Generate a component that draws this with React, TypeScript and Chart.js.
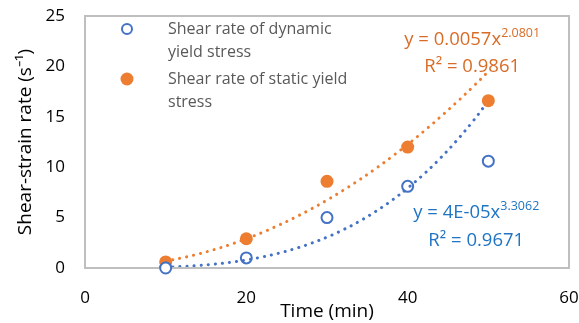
import React, { useEffect, useRef } from "react";
import { Chart, registerables } from "chart.js";

Chart.register(...registerables);

// ---- data ----
const timeMin = [10, 20, 30, 40, 50];
const dynamicRate = [0.0, 1.0, 5.0, 8.1, 10.6];
const staticRate = [0.6, 2.9, 8.6, 12.0, 16.6];

// power-law trendlines as printed on the chart: y = a * x^b
const dynamicFit = { a: 4e-5, b: 3.3062, r2: "0.9671", aText: "4E-05", bText: "3.3062" };
const staticFit = { a: 0.0057, b: 2.0801, r2: "0.9861", aText: "0.0057", bText: "2.0801" };
const trendX = [10, 12, 14, 16, 18, 20, 22, 24, 26, 28, 30, 32, 34, 36, 38, 40, 42, 44, 46, 48, 50];

const xTicks = [0, 20, 40, 60];
const yTicks = [0, 5, 10, 15, 20, 25];
const X_MIN = 0, X_MAX = 60, Y_MIN = 0, Y_MAX = 25;

const legendDynamic = ["Shear rate of dynamic", "yield stress"];
const legendStatic = ["Shear rate of static yield", "stress"];

const xTitle = "Time (min)";
const yTitle = "Shear-strain rate (s\u207B\u00B9)";

const BLUE = "#4472C4";
const ORANGE = "#ED7D31";
const BLUE_TXT = "#1F74C4";
const ORANGE_TXT = "#D86C27";
const BOX = "#BFBFBF";
const FONT = "'Open Sans', sans-serif";

const fitPoints = (f: { a: number; b: number }) =>
  trendX.map((x) => ({ x, y: f.a * Math.pow(x, f.b) }));

const decorPlugin = {
  id: "decor",
  afterDraw(chart: any) {
    const { ctx, scales } = chart;
    const xs = scales.x;
    const ys = scales.y;
    const L = Math.round(xs.getPixelForValue(X_MIN));
    const R = Math.round(xs.getPixelForValue(X_MAX));
    const T = Math.round(ys.getPixelForValue(Y_MAX));
    const B = Math.round(ys.getPixelForValue(Y_MIN));
    ctx.save();
    // plot-area frame, drawn as thin filled bars
    ctx.globalAlpha = 1;
    ctx.fillStyle = BOX;
    ctx.fillRect(L - 1, T - 1, R - L + 2, 2);
    ctx.fillRect(L - 1, B - 1, R - L + 2, 2);
    ctx.fillRect(L - 1, T - 1, 2, B - T + 2);
    ctx.fillRect(R - 1, T - 1, 2, B - T + 2);
    // the marker sitting on the axis is drawn again on top of the frame
    const p0 = chart.getDatasetMeta(0).data[0];
    if (p0) {
      ctx.beginPath();
      ctx.arc(p0.x, p0.y, 5.5, 0, Math.PI * 2);
      ctx.fillStyle = "#ffffff";
      ctx.fill();
      ctx.strokeStyle = BLUE;
      ctx.lineWidth = 2;
      ctx.stroke();
    }
    // legend
    const lx = L + 42;
    const tx = L + 83;
    ctx.font = `16px ${FONT}`;
    ctx.textBaseline = "middle";
    ctx.textAlign = "left";
    ctx.beginPath();
    ctx.arc(lx, T + 13, 5, 0, Math.PI * 2);
    ctx.strokeStyle = BLUE;
    ctx.lineWidth = 2;
    ctx.stroke();
    ctx.fillStyle = "#595959";
    legendDynamic.forEach((t, i) => ctx.fillText(t, tx, T + 13 + i * 23));
    ctx.beginPath();
    ctx.arc(lx, T + 63, 6.5, 0, Math.PI * 2);
    ctx.fillStyle = ORANGE;
    ctx.fill();
    ctx.fillStyle = "#595959";
    legendStatic.forEach((t, i) => ctx.fillText(t, tx, T + 63 + i * 23));

    // equations
    const drawEq = (f: any, color: string, cx: number, y1: number, y2: number) => {
      const px = xs.getPixelForValue(cx);
      const p1 = ys.getPixelForValue(y1);
      const p2 = ys.getPixelForValue(y2);
      ctx.fillStyle = color;
      ctx.textBaseline = "middle";
      const main = `y = ${f.aText}x`;
      ctx.font = `18.5px ${FONT}`;
      const wMain = ctx.measureText(main).width;
      ctx.font = `12.5px ${FONT}`;
      const wSup = ctx.measureText(f.bText).width;
      const start = px - (wMain + wSup) / 2;
      ctx.textAlign = "left";
      ctx.font = `18.5px ${FONT}`;
      ctx.fillText(main, start, p1);
      ctx.font = `12.5px ${FONT}`;
      ctx.fillText(f.bText, start + wMain, p1 - 7);
      ctx.font = `18.5px ${FONT}`;
      ctx.textAlign = "center";
      ctx.fillText(`R\u00B2 = ${f.r2}`, px, p2);
    };
    drawEq(staticFit, ORANGE_TXT, 48, 22.6, 19.95);
    drawEq(dynamicFit, BLUE_TXT, 48.5, 5.45, 2.75);
    ctx.restore();
  },
};

export default function App() {
  const ref = useRef<HTMLCanvasElement | null>(null);
  useEffect(() => {
    if (!ref.current) return;
    const chart = new Chart(ref.current, {
      type: "scatter",
      data: {
        datasets: [
          {
            label: "Shear rate of dynamic yield stress",
            data: timeMin.map((x, i) => ({ x, y: dynamicRate[i] })),
            pointRadius: 5.5,
            pointBorderWidth: 2,
            pointBorderColor: BLUE,
            pointBackgroundColor: "rgba(0,0,0,0)",
            showLine: false,
            order: 1,
          },
          {
            label: "Shear rate of static yield stress",
            data: timeMin.map((x, i) => ({ x, y: staticRate[i] })),
            pointRadius: 6.5,
            pointBorderWidth: 0,
            pointBackgroundColor: ORANGE,
            pointBorderColor: ORANGE,
            showLine: false,
            order: 2,
          },
          {
            label: "dyn fit",
            data: fitPoints(dynamicFit),
            showLine: true,
            pointRadius: 0,
            borderColor: BLUE,
            borderWidth: 3,
            borderDash: [0.1, 7],
            borderCapStyle: "round",
            tension: 0.4,
            order: 3,
          },
          {
            label: "stat fit",
            data: fitPoints(staticFit),
            showLine: true,
            pointRadius: 0,
            borderColor: ORANGE,
            borderWidth: 3,
            borderDash: [0.1, 7],
            borderCapStyle: "round",
            tension: 0.4,
            order: 4,
          },
        ],
      },
      options: {
        responsive: false,
        animation: false,
        layout: { padding: { top: 16, right: 10, left: 0, bottom: 0 } },
        plugins: {
          legend: { display: false },
          tooltip: { enabled: false },
        },
        scales: {
          x: {
            type: "linear",
            min: X_MIN,
            max: X_MAX,
            afterBuildTicks: (s: any) => {
              s.ticks = xTicks.map((v) => ({ value: v }));
            },
            afterFit: (s: any) => {
              s.height = 55;
              s.paddingLeft = 0;
              s.paddingRight = 0;
            },
            grid: { display: false, drawTicks: false },
            border: { display: false },
            ticks: { color: "#000", font: { family: FONT, size: 17 }, padding: 20 },
            title: {
              display: true,
              text: xTitle,
              color: "#000",
              font: { family: FONT, size: 19 },
              padding: { top: 0, bottom: 0 },
            },
          },
          y: {
            type: "linear",
            min: Y_MIN,
            max: Y_MAX,
            afterBuildTicks: (s: any) => {
              s.ticks = yTicks.map((v) => ({ value: v }));
            },
            afterFit: (s: any) => {
              s.width = 85;
              s.paddingTop = 0;
              s.paddingBottom = 0;
            },
            grid: { display: false, drawTicks: false },
            border: { display: false },
            ticks: { color: "#000", font: { family: FONT, size: 17 }, padding: 20 },
            title: {
              display: true,
              text: yTitle,
              color: "#000",
              font: { family: FONT, size: 19 },
              padding: { top: 14, bottom: 0 },
            },
          },
        },
      },
      plugins: [decorPlugin],
    } as any);
    return () => chart.destroy();
  }, []);
  return (
    <div style={{ position: "fixed", left: 0, top: 0, width: 579, height: 323, background: "#fff" }}>
      <canvas ref={ref} width={579} height={323} style={{ display: "block" }} />
    </div>
  );
}
